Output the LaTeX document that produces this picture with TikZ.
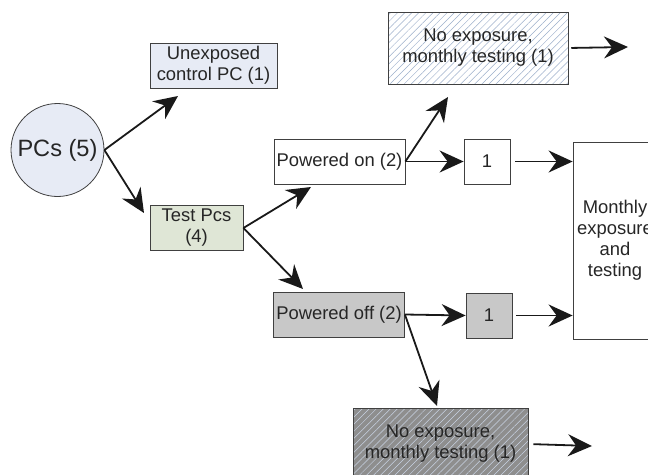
\documentclass[tikz,border=0pt]{standalone}
\usepackage{fontspec}
\setmainfont{Liberation Sans}
\usetikzlibrary{arrows.meta,patterns.meta}
\definecolor{pcblue}{HTML}{E7EBF5}
\definecolor{testgreen}{HTML}{DFE6D6}
\definecolor{offgray}{HTML}{C8C8C8}
\definecolor{darkgray}{HTML}{8E8E8E}
\definecolor{hatchlight}{HTML}{9CAFCB}
\definecolor{hatchdark}{HTML}{C9D3E3}
\definecolor{edgegray}{HTML}{404040}
\definecolor{inkgray}{HTML}{262626}

\begin{document}
\begin{tikzpicture}[x=1pt,y=-1pt,
  box/.style={draw=edgegray,line width=0.8pt,inner sep=0pt,align=center,text=inkgray,
    font=\fontsize{18.4}{21}\selectfont},
  hatchbox/.style={box,preaction={fill=#1},pattern={Lines[angle=45,distance=5pt,line width=0.5pt]}},
  arr/.style={-{Stealth[length=24pt,width=22pt,inset=8pt]},line width=1.8pt,black!90}]
\useasboundingbox (0,0) rectangle (648,474);
\clip (0,0) rectangle (648,474);
\node[circle,draw=edgegray,line width=0.8pt,fill=pcblue,minimum size=93pt,inner sep=0pt,text=inkgray,
  font=\fontsize{23.6}{27}\selectfont] (pcs) at (57.5,150) {PCs (5)};
\node[box,fill=pcblue,minimum width=127pt,minimum height=45pt] (unexp) at (213.5,65.5) {Unexposed\\control PC (1)};
\node[box,fill=testgreen,minimum width=93pt,minimum height=45pt] (test) at (196.5,228) {Test Pcs\\(4)};
\node[box,fill=white,minimum width=131pt,minimum height=45pt] (on) at (339.5,161.5) {Powered on (2)};
\node[box,fill=offgray,minimum width=131pt,minimum height=45pt] (off) at (339,314.5) {Powered off (2)};
\node[hatchbox=white,pattern color=hatchlight,minimum width=180pt,minimum height=72pt] (noexpA) at (478,48) {No exposure,\\monthly testing (1)};
\node[box,fill=white,minimum width=46pt,minimum height=45pt] (oneA) at (487,161.5) {1};
\node[box,fill=offgray,minimum width=46pt,minimum height=45pt] (oneB) at (489,315.5) {1};
\node[box,fill=white,minimum width=84pt,minimum height=197pt] (monthly) at (615,240.5) {Monthly\\exposure\\and\\testing};
\node[hatchbox=darkgray,pattern color=hatchdark,minimum width=175pt,minimum height=72pt] (noexpB) at (440.5,444) {No exposure,\\monthly testing (1)};
\coordinate (tipU) at (178,96);
\coordinate (tipT) at (144,213);
\coordinate (tipOn) at (311,187);
\coordinate (tipOff) at (303,289);
\coordinate (tipA) at (448,97);
\coordinate (tipB) at (437,406);
\coordinate (endA) at (628,47);
\coordinate (endB) at (592,446);
\draw[arr] (pcs.east) -- (tipU);
\draw[arr] (pcs.east) -- (tipT);
\draw[arr] (test.east) -- (tipOn);
\draw[arr] (test.east) -- (tipOff);
\draw[arr] (on.east) -- (tipA);
\draw[arr] (on.east) -- (oneA.west);
\draw[arr,shorten <=5pt] (oneA.east) -- (oneA.east -| monthly.west);
\draw[arr] (off.east) -- (oneB.west);
\draw[arr,shorten <=4pt] (oneB.east) -- (oneB.east -| monthly.west);
\draw[arr] (off.east) -- (tipB);
\draw[arr,shorten <=3pt] (noexpA.east) -- (endA);
\draw[arr,shorten <=5pt] (noexpB.east) -- (endB);
\end{tikzpicture}
\end{document}
